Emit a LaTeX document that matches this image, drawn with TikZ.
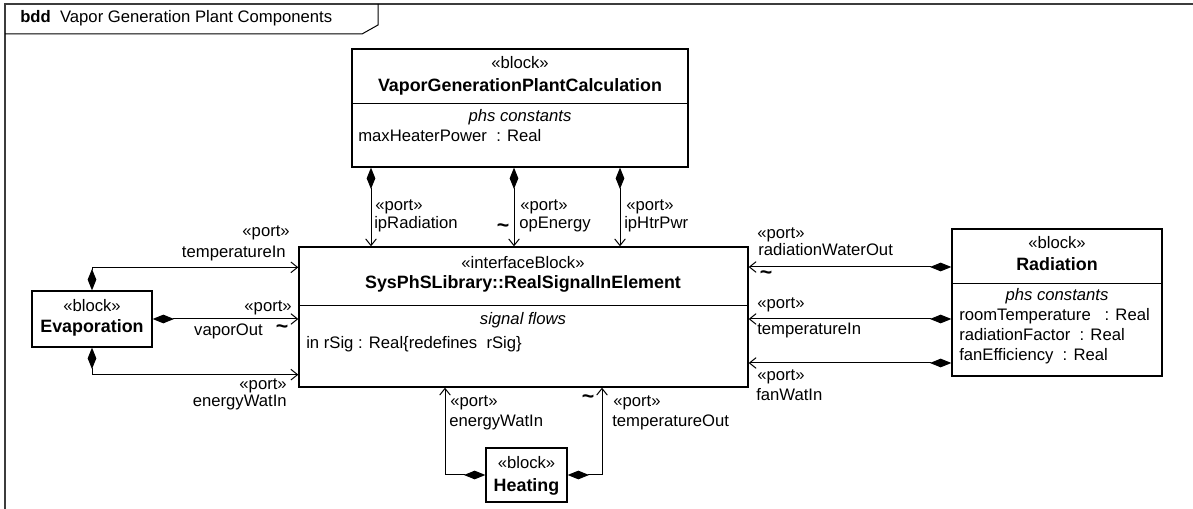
\documentclass[tikz,border=0pt]{standalone}
\usepackage{fontspec}
\setmainfont{Liberation Sans}
\usepackage{tikz}
\usetikzlibrary{
  arrows.meta,
  positioning,
  calc,
  fit
}
\definecolor{framegray}{RGB}{60,60,60}
\tikzset{
  blockbox/.style={draw, line width=1pt, inner sep=0pt},
  compart/.style={line width=1pt},
  txt/.style={font=\fontsize{12.5}{15}\selectfont, inner sep=0pt, anchor=mid},
  txtl/.style={txt, anchor=mid west},
  txtr/.style={txt, anchor=mid east},
  blkname/.style={txt, font=\fontsize{13.4}{15}\selectfont\bfseries},
  compname/.style={txt, font=\fontsize{12.5}{15}\selectfont\itshape},
  tildemark/.style={txt, font=\fontsize{16}{15}\selectfont\bfseries},
  partof/.style={line width=0.75pt,
    {Diamond[length=16pt,width=6.5pt]}-{Straight Barb[length=5pt,width=8pt,line width=0.75pt]}},
}
\newcommand{\st}[1]{«#1»}
\newcommand{\flowtilde}{\textasciitilde}

\begin{document}
\begin{tikzpicture}[x=0.75pt, y=-0.75pt]
  \useasboundingbox (0,0) rectangle (1193,509);

  % frame and heading
  \draw[line width=1.5pt, framegray] (5,509) -- (5,4) -- (1193,4);
  \draw[line width=0.75pt] (5,34) -- (362,34) -- (378,25) -- (378,4);
  \node[txtl] (title) at (20,19) {\textbf{bdd}\ \ Vapor Generation Plant Components};

  % VaporGenerationPlantCalculation
  \node[blockbox, fit={(352,49) (688,167)}] (vgpc) {};
  \draw[compart] ($(vgpc.north west)+(0,55)$) -- ($(vgpc.north east)+(0,55)$);
  \node[txt] (vgpcst) at (520,65) {\st{block}};
  \node[blkname] (vgpcname) at (520,88) {VaporGenerationPlantCalculation};
  \node[compname] (vgpccomp) at (520,118) {phs constants};
  \node[txtl] (vgpcattr) at (358,138) {maxHeaterPower\ \ : Real};

  % interface block
  \node[blockbox, fit={(299,247) (748,387)}] (iface) {};
  \draw[compart] ($(iface.north west)+(0,59)$) -- ($(iface.north east)+(0,59)$);
  \node[txt] (ifacest) at (523,265) {\st{interfaceBlock}};
  \node[blkname] (ifacename) at (523,285) {SysPhSLibrary::RealSignalInElement};
  \node[compname] (ifacecomp) at (523,321) {signal flows};
  \node[txtl] (ifaceattr) at (306,345) {in rSig : Real\{redefines\ \ rSig\}};

  % Evaporation
  \node[blockbox, fit={(32,291) (152,347)}] (evap) {};
  \node[txt] (evapst) at (92,308) {\st{block}};
  \node[blkname] (evapname) at (92,329) {Evaporation};

  % Radiation
  \node[blockbox, fit={(952,229) (1162,376)}] (rad) {};
  \draw[compart] ($(rad.north west)+(0,55)$) -- ($(rad.north east)+(0,55)$);
  \node[txt] (radst) at (1057,245) {\st{block}};
  \node[blkname] (radname) at (1057,267) {Radiation};
  \node[compname] (radcomp) at (1057,297) {phs constants};
  \node[txtl] (radattra) at (959,317) {roomTemperature\ \ \ : Real};
  \node[txtl] (radattrb) at (959,337) {radiationFactor\ \ : Real};
  \node[txtl] (radattrc) at (959,357) {fanEfficiency\ \ : Real};

  % Heating
  \node[blockbox, fit={(486,448) (567,502)}] (heat) {};
  \node[txt] (heatst) at (526.5,465) {\st{block}};
  \node[blkname] (heatname) at (526.5,488) {Heating};

  % ports from the calculation block
  \foreach \x in {371,514,620}
    \draw[partof] (vgpc.south -| \x,0) -- (iface.north -| \x,0);
  \node[txtl] (pa) at (375,207) {\st{port}};
  \node[txtl] (pan) at (374,225) {ipRadiation};
  \node[txtl] (pb) at (520,207) {\st{port}};
  \node[txtl] (pbn) at (519,225) {opEnergy};
  \node[tildemark] (pbt) at (503,229) {\flowtilde};
  \node[txtl] (pc) at (626,207) {\st{port}};
  \node[txtl] (pcn) at (624,225) {ipHtrPwr};

  % ports from Evaporation
  \draw[partof] (evap.north) |- ($(iface.north west)+(0,21)$);
  \draw[partof] (evap.east) -- (evap.east -| iface.west);
  \draw[partof] (evap.south) |- ($(iface.south west)+(0,-13)$);
  \node[txtr] (ea) at (290,233) {\st{port}};
  \node[txtr] (ean) at (286,254) {temperatureIn};
  \node[txtr] (eb) at (292,308) {\st{port}};
  \node[txtr] (ebn) at (263,332) {vaporOut};
  \node[tildemark] (ebt) at (282,330) {\flowtilde};
  \node[txtr] (ec) at (287,386) {\st{port}};
  \node[txtr] (ecn) at (287,403) {energyWatIn};

  % ports from Radiation
  \foreach \y in {267,319,363}
    \draw[partof] (rad.west |- 0,\y) -- (iface.east |- 0,\y);
  \node[txtl] (ra) at (757,235) {\st{port}};
  \node[txtl] (ran) at (758,252) {radiationWaterOut};
  \node[tildemark] (rat) at (766,276) {\flowtilde};
  \node[txtl] (rb) at (757,305) {\st{port}};
  \node[txtl] (rbn) at (757,331) {temperatureIn};
  \node[txtl] (rc) at (757,377) {\st{port}};
  \node[txtl] (rcn) at (756,397) {fanWatIn};

  % ports from Heating
  \draw[partof] (heat.west) -| (iface.south -| 445,0);
  \draw[partof] (heat.east) -| (iface.south -| 602,0);
  \node[txtl] (ha) at (450,403) {\st{port}};
  \node[txtl] (han) at (449,423) {energyWatIn};
  \node[txtl] (hb) at (613,403) {\st{port}};
  \node[txtl] (hbn) at (612,423) {temperatureOut};
  \node[tildemark] (hbt) at (588,400) {\flowtilde};
\end{tikzpicture}
\end{document}
